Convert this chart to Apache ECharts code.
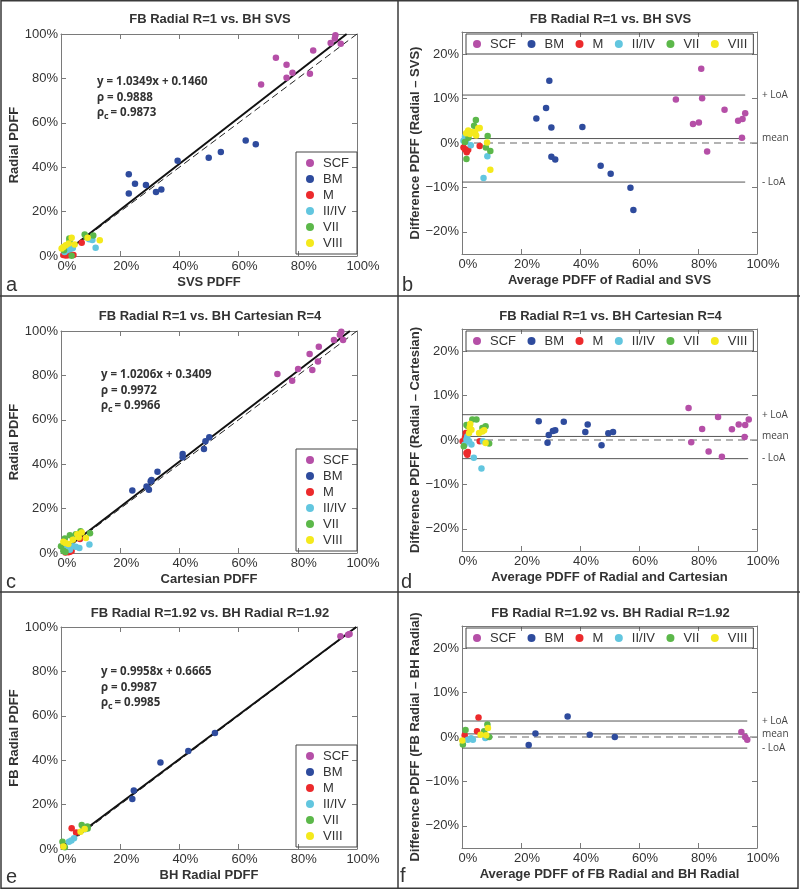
<!DOCTYPE html>
<html><head><meta charset="utf-8">
<script src="https://cdn.jsdelivr.net/npm/echarts@6/dist/echarts.min.js"></script>
<style>html,body{margin:0;padding:0;background:#fff}#c{width:800px;height:889px}</style>
</head><body><div id="c"></div><script>
// ---------- DATA ----------
const groups = ['SCF','BM','M','II/IV','VII','VIII'];
const xTicks = [0,20,40,60,80,100];
const yTicksBA = [-20,-10,0,10,20];

// Panel a: FB Radial R=1 vs BH SVS (x = SVS, y = Radial)
const a_SCF = [[92.7,99.4],[92.5,98.0],[91.1,96.0],[94.5,95.6],[85.2,92.6],[72.6,89.3],[76.2,86.2],[78.2,82.6],[76.2,80.3],[84.1,82.1],[67.6,77.3]];
const a_BM = [[22.9,36.8],[22.9,28.2],[25.0,32.6],[28.7,32.0],[32.1,28.8],[33.9,29.9],[39.4,42.9],[49.9,44.3],[54.0,46.8],[62.4,52.0],[65.8,50.3]];
const a_M = [[0.8,0.4],[1.6,0.2],[2.4,0.3],[3.0,0.9],[4.2,0.5],[7.0,6.0]];
const a_II = [[1.2,1.8],[2.0,2.6],[3.0,3.0],[4.0,3.6],[9.5,7.6],[10.6,7.2],[11.7,3.7]];
const a_VII = [[2.8,7.9],[2.9,6.9],[3.6,0.1],[8.0,9.7],[10.9,9.2],[8.6,8.4],[1.0,2.6]];
const a_VIII = [[0.2,3.4],[0.8,4.1],[1.6,4.8],[3.6,8.2],[4.6,5.2],[9.0,8.2],[13.1,7.1],[2.6,5.6]];
const a_fit = [[0,0.146],[96.5,100]];
const a_eq = ['y = 1.0349x + 0.1460','0.9888','0.9873'];

// Panel b: Bland-Altman Radial - SVS
const b_SCF = [[72.5,9.8],[81.1,16.7],[81.4,10.1],[78.3,4.3],[80.3,4.6],[89.0,7.5],[83.1,-1.9],[93.6,5.0],[95.1,5.4],[96.0,6.7],[94.9,1.2]];
const b_BM = [[25.2,5.5],[28.5,7.9],[29.6,14.0],[30.3,3.5],[30.3,-3.1],[31.6,-3.7],[40.8,3.6],[47.0,-5.1],[50.4,-6.9],[57.1,-10.1],[58.1,-15.1]];
const b_M = [[0.5,-1.0],[1.0,-1.4],[1.6,-1.7],[2.1,-1.5],[1.6,-2.1],[6.0,-0.7]];
const b_II = [[1.0,1.4],[0.5,0.5],[1.4,0.3],[3.0,-0.5],[8.6,-3.0],[7.3,-7.9]];
const b_VII = [[4.7,5.2],[4.1,3.9],[8.7,1.6],[8.1,-1.0],[9.6,-1.8],[1.5,-3.6],[2.2,1.2],[1.0,0.2]];
const b_VIII = [[2.1,2.8],[3.3,2.5],[2.7,2.0],[4.4,2.4],[1.4,2.2],[5.5,3.3],[6.0,3.4],[8.5,0.1],[9.6,-6.0],[4.8,1.7]];
const b_loa = [10.8, 1.0, -8.8];
const b_end = 96;

// Panel c: FB Radial R=1 vs BH Cartesian R=4
const c_SCF = [[94.7,99.7],[94.2,98.3],[92.2,95.9],[95.3,95.9],[87.1,92.9],[84.0,89.6],[80.1,82.9],[84.9,82.4],[86.8,86.3],[73.1,80.6],[78.1,77.6]];
const c_BM = [[24.1,28.1],[28.9,30.0],[29.7,28.5],[30.3,32.3],[30.6,32.9],[32.6,36.6],[41.1,44.6],[41.1,43.1],[48.3,46.8],[48.8,50.3],[50.1,52.1]];
const c_M = [[1.5,0.2],[2.5,0.3],[3.0,0.6],[3.6,0.9],[6.4,6.3],[2.0,1.0]];
const c_II = [[1.0,1.5],[2.0,2.1],[3.0,1.5],[4.0,3.0],[6.2,2.3],[9.6,3.8],[5.0,2.8]];
const c_VII = [[0.0,3.0],[1.3,6.5],[3.0,8.0],[6.6,9.8],[9.8,8.9],[5.0,8.5],[0.8,1.0],[1.5,0.5]];
const c_VIII = [[0.8,5.1],[1.5,4.5],[5.5,8.5],[7.0,9.2],[8.4,6.8],[4.0,6.0],[6.0,7.0],[2.5,4.0]];
const c_fit = [[0,0.341],[97.6,100]];
const c_eq = ['y = 1.0206x + 0.3409','0.9972','0.9966'];

// Panel d: Bland-Altman Radial - Cartesian
const d_SCF = [[76.8,7.2],[77.7,-0.5],[81.4,2.5],[83.6,-2.6],[86.8,5.2],[88.1,-3.8],[91.5,2.4],[93.8,3.5],[96.0,3.4],[97.2,4.6],[95.8,0.7]];
const d_BM = [[26.0,4.2],[29.4,1.1],[29.0,-0.6],[30.8,2.0],[31.6,2.2],[34.5,4.1],[41.8,1.8],[42.6,3.5],[47.3,-1.2],[49.6,1.5],[51.2,1.8]];
const d_M = [[1.3,1.6],[0.2,-0.3],[1.5,-2.9],[2.0,-2.7],[1.8,-3.3],[6.0,-0.3],[1.0,0.5]];
const d_II = [[1.5,0.1],[2.4,-0.3],[3.2,-1.0],[0.9,-1.0],[4.0,-4.0],[6.6,-6.4],[7.1,-0.3],[1.8,0.8]];
const d_VII = [[3.5,4.6],[4.9,4.6],[1.5,3.4],[2.0,3.1],[6.9,2.7],[8.0,3.1],[9.2,-0.8],[0.6,-1.4]];
const d_VIII = [[2.6,2.8],[3.2,2.3],[2.4,1.6],[5.8,1.6],[6.9,1.9],[8.0,-0.7],[2.8,3.6],[7.5,2.2]];
const d_loa = [5.7, 0.8, -4.2];
const d_end = 97;

// Panel e: FB Radial R=1.92 vs BH Radial R=1.92
const e_SCF = [[94.4,95.8],[97.0,96.5],[97.5,96.8]];
const e_BM = [[24.1,22.5],[24.6,26.3],[33.6,39.0],[43.0,44.1],[52.0,52.3]];
const e_M = [[3.6,9.3],[5.1,7.4],[0.8,1.2]];
const e_II = [[8.1,8.9],[4.4,4.8],[2.7,3.3],[3.5,3.8]];
const e_VII = [[7.0,10.8],[8.9,10.1],[7.6,9.5],[0.5,3.3],[1.3,0.8],[9.0,9.2]];
const e_VIII = [[6.6,7.8],[0.8,1.1],[8.0,9.0]];
const e_fit = [[0,0.667],[99.75,100]];
const e_eq = ['y = 0.9958x + 0.6665','0.9987','0.9985'];

// Panel f: Bland-Altman FB Radial - BH Radial
const f_SCF = [[94.7,1.1],[96.0,0.0],[96.7,-0.6]];
const f_BM = [[22.6,-1.8],[24.9,0.8],[35.8,4.6],[43.3,0.5],[51.8,0.0]];
const f_M = [[5.6,4.4],[5.1,1.3],[0.9,0.4]];
const f_II = [[2.0,-0.6],[3.7,-0.6],[7.9,-0.2],[3.1,-0.3]];
const f_VII = [[8.6,2.8],[1.2,1.6],[7.5,1.3],[9.2,0.0],[0.3,-1.7]];
const f_VIII = [[8.8,2.0],[8.2,0.4],[0.1,-0.8],[6.3,0.5]];
const f_loa = [3.6, 0.7, -2.5];
const f_end = 96.7;

const identity = [[0,0],[100,100]];
const zeroLine = [[0,0],[100,0]];

const titles = ['FB Radial R=1 vs. BH SVS','FB Radial R=1 vs. BH SVS','FB Radial R=1 vs. BH Cartesian R=4','FB Radial R=1 vs. BH Cartesian R=4','FB Radial R=1.92 vs. BH Radial R=1.92','FB Radial R=1.92 vs. BH Radial R=1.92'];
const xNames = ['SVS PDFF','Average PDFF of Radial and SVS','Cartesian PDFF','Average PDFF of Radial and Cartesian','BH Radial PDFF','Average PDFF of FB Radial and BH Radial'];
const yNames = ['Radial PDFF','Difference PDFF (Radial \u2013 SVS)','Radial PDFF','Difference PDFF (Radial \u2013 Cartesian)','FB Radial PDFF','Difference PDFF (FB Radial \u2013 BH Radial)'];
const letters = ['a','b','c','d','e','f'];
const loaNames = ['+ LoA','mean','- LoA'];

// ---------- STYLE / LAYOUT ----------
const colors = ['#b54fa7','#2e4b9d','#ec2a2c','#62c6df','#5cb84a','#f4e91c'];
const FONT = '"Liberation Sans", Arial, Helvetica, sans-serif';
const EQFONT = '"Open Sans", sans-serif';
const grids = [
  {left:61, top:34, width:296, height:222},
  {left:462, top:32, width:295, height:222},
  {left:61, top:331, width:296, height:222},
  {left:462, top:329, width:295, height:222},
  {left:61, top:627, width:296, height:222},
  {left:462, top:626, width:295, height:222}
];
const scatterSets = [
  [a_SCF,a_BM,a_M,a_II,a_VII,a_VIII],
  [b_SCF,b_BM,b_M,b_II,b_VII,b_VIII],
  [c_SCF,c_BM,c_M,c_II,c_VII,c_VIII],
  [d_SCF,d_BM,d_M,d_II,d_VII,d_VIII],
  [e_SCF,e_BM,e_M,e_II,e_VII,e_VIII],
  [f_SCF,f_BM,f_M,f_II,f_VII,f_VIII]
];
const isBA = [false,true,false,true,false,true];
const fits = [a_fit,null,c_fit,null,e_fit,null];
const eqs = [a_eq,null,c_eq,null,e_eq,null];
const loas = [null,b_loa,null,d_loa,null,f_loa];
const ends = [null,b_end,null,d_end,null,f_end];

const axisCol = '#7a7a7a';
function common(){
  return {
    axisLine:{show:true, onZero:false, lineStyle:{color:axisCol, width:1}},
    axisTick:{show:true, inside:true, length:5, lineStyle:{color:axisCol}},
    splitLine:{show:false}
  };
}
const pct = v => (v < 0 ? '\u2212' + (-v) : v) + '%';

const xAxes = [], yAxes = [], series = [], legends = [];
grids.forEach((g, p) => {
  const c = common();
  xAxes.push(Object.assign({}, c, {
    type:'value', gridIndex:p, position:'bottom', min:0, max:100, interval:20,
    name:xNames[p], nameLocation:'middle', nameGap:20,
    nameTextStyle:{fontSize:13, fontWeight:'bold', color:'#333', fontFamily:FONT},
    axisLabel:{formatter:pct, fontSize:13, color:'#333', margin:4, padding:[0,0,0,12], fontFamily:FONT}
  }));
  xAxes.push(Object.assign({}, common(), {
    type:'value', gridIndex:p, position:'top', min:0, max:100, interval:20, axisLabel:{show:false}
  }));
  if (isBA[p]) {
    yAxes.push(Object.assign({}, common(), {
      type:'value', gridIndex:p, position:'left', min:-25, max:25,
      name:yNames[p], nameLocation:'middle', nameGap:36,
      nameTextStyle:{fontSize:13, fontWeight:'bold', color:'#333', fontFamily:FONT},
      axisLabel:{formatter:pct, fontSize:13, color:'#333', margin:3, fontFamily:FONT, customValues:yTicksBA},
      axisTick:{show:true, inside:true, length:5, lineStyle:{color:axisCol}, customValues:yTicksBA}
    }));
    yAxes.push(Object.assign({}, common(), {
      type:'value', gridIndex:p, position:'right', min:-25, max:25,
      axisLabel:{show:false, customValues:yTicksBA},
      axisTick:{show:true, inside:true, length:5, lineStyle:{color:axisCol}, customValues:yTicksBA}
    }));
  } else {
    yAxes.push(Object.assign({}, c, {
      type:'value', gridIndex:p, position:'left', min:0, max:100, interval:20,
      name:yNames[p], nameLocation:'middle', nameGap:32,
      nameTextStyle:{fontSize:13, fontWeight:'bold', color:'#333', fontFamily:FONT},
      axisLabel:{formatter:pct, fontSize:13, color:'#333', margin:3, fontFamily:FONT}
    }));
    yAxes.push(Object.assign({}, common(), {
      type:'value', gridIndex:p, position:'right', min:0, max:100, interval:20, axisLabel:{show:false}
    }));
  }
  const xi = 2*p, yi = 2*p;
  // reference lines
  if (!isBA[p]) {
    series.push({type:'line', xAxisIndex:xi, yAxisIndex:yi, data:identity, symbol:'none', silent:true, z:1,
      lineStyle:{color:'#222', width:1, type:[7,4]}});
    series.push({type:'line', xAxisIndex:xi, yAxisIndex:yi, data:fits[p], symbol:'none', silent:true, z:2,
      lineStyle:{color:'#111', width:2}});
  } else {
    series.push({type:'line', xAxisIndex:xi, yAxisIndex:yi, data:zeroLine, symbol:'none', silent:true, z:1,
      lineStyle:{color:'#9a9a9a', width:1.5, type:[7,5]}});
    loas[p].forEach(v => {
      series.push({type:'line', xAxisIndex:xi, yAxisIndex:yi, data:[[0,v],[ends[p],v]], symbol:'none', silent:true, z:2,
        lineStyle:{color:'#555', width:1}});
    });
  }
  groups.forEach((name, gi) => {
    series.push({type:'scatter', name:name, xAxisIndex:xi, yAxisIndex:yi, data:scatterSets[p][gi],
      symbol:'circle', symbolSize:6.5, itemStyle:{color:colors[gi], opacity:1}, z:3});
  });
  const legData = groups.map(n => ({name:n, icon:'circle'}));
  const txt = {fontSize:13, color:'#333', fontFamily:FONT, lineHeight:14, padding:[0,0,0,4]};
  if (isBA[p]) {
    legends.push({data:legData, orient:'horizontal', left:g.left+4, top:g.top+2, itemWidth:8, itemHeight:8, itemGap:11.5,
      padding:[3,6,3,7], borderColor:'#444', borderWidth:1, textStyle:txt, selectedMode:false});
  } else {
    legends.push({data:legData, orient:'vertical', left:296, top:g.top+118, itemWidth:8, itemHeight:8, itemGap:2,
      padding:[4,8,4,10], borderColor:'#444', borderWidth:1, textStyle:txt, selectedMode:false});
  }
});

const chart = echarts.init(document.getElementById('c'), null, {renderer:'canvas'});
chart.setOption({
  animation:false,
  backgroundColor:'#fff',
  grid:grids.map(g => Object.assign({containLabel:false}, g)),
  xAxis:xAxes, yAxis:yAxes, legend:legends, series:series
});

// ---------- TEXT / FRAME ----------
const gfx = [];
const frameStyle = {stroke:'#3a3a3a', lineWidth:1.5, fill:null};
gfx.push({type:'rect', shape:{x:1, y:0.75, width:797, height:887.5}, style:{stroke:'#3a3a3a', lineWidth:1.5, fill:'none'}, silent:true});
gfx.push({type:'line', shape:{x1:398, y1:0, x2:398, y2:889}, style:frameStyle, silent:true});
gfx.push({type:'line', shape:{x1:0, y1:296, x2:800, y2:296}, style:frameStyle, silent:true});
gfx.push({type:'line', shape:{x1:0, y1:592, x2:800, y2:592}, style:frameStyle, silent:true});

const rowOff = [0, 0, 297, 297, 594, 594];
const letterPos = [[6,285],[402,285],[6,582],[401,582],[6,877],[400,876]];
grids.forEach((g, p) => {
  gfx.push({type:'text', x:g.left + g.width/2 + 1, y:rowOff[p] + 19, silent:true,
    style:{text:titles[p], font:'bold 13px ' + FONT, fill:'#333', align:'center', verticalAlign:'middle'}});
  gfx.push({type:'text', x:letterPos[p][0], y:letterPos[p][1], silent:true,
    style:{text:letters[p], font:'20px ' + FONT, fill:'#333', align:'left', verticalAlign:'middle'}});
  if (eqs[p]) {
    const x0 = p === 0 ? 97 : 101;
    const y0 = p === 0 ? 82 : rowOff[p] + 78;
    const f = 'bold 11.5px ' + EQFONT;
    gfx.push({type:'text', x:x0, y:y0, silent:true, style:{text:eqs[p][0], font:f, fill:'#333', align:'left', verticalAlign:'middle'}});
    gfx.push({type:'text', x:x0, y:y0+15.5, silent:true, style:{text:'\u03c1 = ' + eqs[p][1], font:f, fill:'#333', align:'left', verticalAlign:'middle'}});
    gfx.push({type:'text', x:x0, y:y0+31, silent:true, style:{text:'\u03c1', font:f, fill:'#333', align:'left', verticalAlign:'middle'}});
    gfx.push({type:'text', x:x0+7, y:y0+34, silent:true, style:{text:'c', font:'bold 9px ' + EQFONT, fill:'#333', align:'left', verticalAlign:'middle'}});
    gfx.push({type:'text', x:x0+13.5, y:y0+31, silent:true, style:{text:'= ' + eqs[p][2], font:f, fill:'#333', align:'left', verticalAlign:'middle'}});
  }
  if (loas[p]) {
    loas[p].forEach((v, i) => {
      const pt = chart.convertToPixel({gridIndex:p}, [100, v]);
      gfx.push({type:'text', x:pt[0] + 5, y:pt[1], silent:true,
        style:{text:loaNames[i], font:'10px ' + EQFONT, fill:'#444', align:'left', verticalAlign:'middle'}});
    });
  }
});
chart.setOption({graphic:gfx});
</script></body></html>
